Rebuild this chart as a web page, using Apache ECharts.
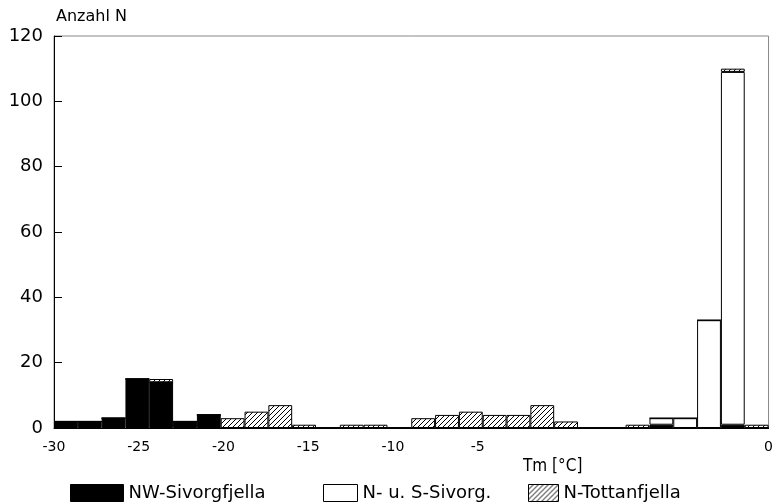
<!DOCTYPE html>
<html>
<head>
<meta charset="utf-8">
<script src="https://cdn.jsdelivr.net/npm/echarts@6/dist/echarts.min.js"></script>
<style>
  html, body { margin: 0; padding: 0; background: #fff; }
  #chart { width: 776px; height: 504px; }
</style>
</head>
<body>
<div id="chart"></div>
<script>
// Klassen: 1 °C breit, von -30 bis 0 (Beschriftung = Klassenanfang)
const bins = [];
for (let t = -30; t < 0; t++) bins.push(String(t));

// Anzahl je Klasse
const nwSivorg = [2, 2, 3, 15, 14, 2, 4, 0, 0, 0, 0, 0, 0, 0, 0, 0, 0, 0, 0, 0, 0, 0, 0, 0, 0, 1, 0, 0, 1, 0];
const nuSSivorg = [0, 0, 0, 0, 0, 0, 0, 0, 0, 0, 0, 0, 0, 0, 0, 0, 0, 0, 0, 0, 0, 0, 0, 0, 0, 2, 3, 33, 108, 0];
const nTottan = [0, 0, 0, 0, 1, 0, 0, 3, 5, 7, 1, 0, 1, 1, 0, 3, 4, 5, 4, 4, 7, 2, 0, 0, 1, 0, 0, 0, 1, 1];

const yTicks = [0, 20, 40, 60, 80, 100, 120];
// Beschriftung der x-Achse wie im Original gesetzt
const xTickLabels = [-30, -25, -20, -15, -10, -5];

const FONT = 'DejaVu Sans';
const NARROW = "'Liberation Sans Narrow', 'DejaVu Sans Condensed', 'Liberation Sans'";

// Schraffur fuer N-Tottanfjella
function hatch() {
  const c = document.createElement('canvas');
  c.width = 5; c.height = 5;
  const ctx = c.getContext('2d');
  ctx.fillStyle = '#fff';
  ctx.fillRect(0, 0, 5, 5);
  ctx.strokeStyle = '#000';
  ctx.lineWidth = 1;
  ctx.beginPath();
  ctx.moveTo(0, 5); ctx.lineTo(5, 0);
  ctx.moveTo(-1, 1); ctx.lineTo(1, -1);
  ctx.moveTo(4, 6); ctx.lineTo(6, 4);
  ctx.stroke();
  return { image: c, repeat: 'repeat' };
}

const myChart = echarts.init(document.getElementById('chart'));

const legendBase = {
  top: 479,
  itemHeight: 17,
  icon: 'rect',
  textStyle: { fontFamily: FONT, fontSize: 18, color: '#000' },
  itemStyle: { borderColor: '#000', borderWidth: 1 },
  selectedMode: false
};

const option = {
  animation: false,
  backgroundColor: '#fff',
  grid: {
    left: 54, top: 36, right: 1, bottom: 76,
    show: true, borderColor: '#888', borderWidth: 1
  },
  title: {
    text: 'Tm [°C]',
    left: 518, top: 453,
    textStyle: { fontFamily: NARROW, fontSize: 17, fontWeight: 'normal', color: '#000' }
  },
  legend: [
    Object.assign({}, legendBase, { data: ['NW-Sivorgfjella'], left: 65, itemWidth: 53 }),
    Object.assign({}, legendBase, { data: ['N- u. S-Sivorg.'], left: 318, itemWidth: 34 }),
    Object.assign({}, legendBase, { data: ['N-Tottanfjella'], left: 523, itemWidth: 30 })
  ],
  xAxis: [
    {
      type: 'category',
      data: bins,
      boundaryGap: true,
      axisLine: { onZero: false, lineStyle: { color: '#000', width: 1 } },
      axisTick: { show: false },
      axisLabel: { show: false },
      splitLine: { show: false }
    },
    {
      // Lage der Beschriftung wie im Original (5 °C = 85,6 px)
      type: 'value',
      position: 'bottom',
      min: -30,
      max: 12.17,
      interval: 5,
      axisLine: { show: false, onZero: false },
      axisTick: { show: false },
      splitLine: { show: false },
      axisLabel: {
        margin: 12,
        fontFamily: FONT, fontSize: 14, color: '#000',
        showMaxLabel: false,
        formatter: v => (xTickLabels.indexOf(v) >= 0 ? String(v) : '')
      }
    },
    {
      type: 'value',
      position: 'bottom',
      min: -30,
      max: 0,
      interval: 30,
      axisLine: { show: false, onZero: false },
      axisTick: { show: false },
      splitLine: { show: false },
      axisLabel: {
        margin: 12,
        fontFamily: FONT, fontSize: 14, color: '#000',
        formatter: v => (v === 0 ? '0' : '')
      }
    }
  ],
  yAxis: {
    type: 'value',
    min: yTicks[0],
    max: yTicks[yTicks.length - 1],
    interval: 20,
    name: 'Anzahl N',
    nameLocation: 'end',
    nameGap: 11,
    nameTextStyle: {
      fontFamily: FONT, fontSize: 16, color: '#000',
      align: 'left', verticalAlign: 'bottom', padding: [0, 0, 0, 2]
    },
    axisLine: { show: true, onZero: false, lineStyle: { color: '#000', width: 1 } },
    axisTick: { show: true, inside: true, length: 8, lineStyle: { color: '#000' } },
    axisLabel: { margin: 11, fontFamily: FONT, fontSize: 18, color: '#000' },
    splitLine: { show: false }
  },
  series: [
    {
      name: 'NW-Sivorgfjella',
      type: 'bar',
      stack: 'n',
      data: nwSivorg,
      barCategoryGap: 0,
      itemStyle: { color: '#000', borderColor: '#000', borderWidth: 1 }
    },
    {
      name: 'N- u. S-Sivorg.',
      type: 'bar',
      stack: 'n',
      data: nuSSivorg,
      barCategoryGap: 0,
      itemStyle: { color: '#fff', borderColor: '#000', borderWidth: 1 }
    },
    {
      name: 'N-Tottanfjella',
      type: 'bar',
      stack: 'n',
      data: nTottan,
      barCategoryGap: 0,
      itemStyle: { color: hatch(), borderColor: '#000', borderWidth: 1 }
    }
  ]
};

myChart.setOption(option);
</script>
</body>
</html>
